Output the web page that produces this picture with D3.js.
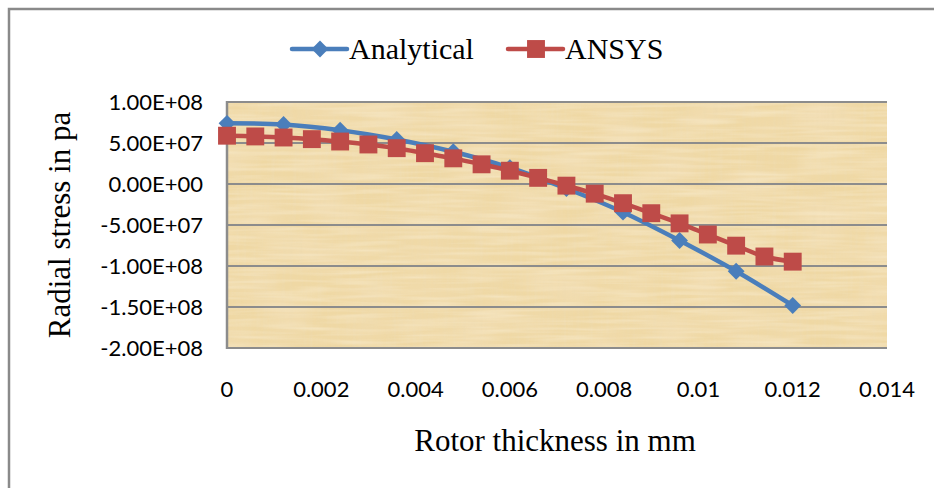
<!DOCTYPE html>
<html>
<head>
<meta charset="utf-8">
<script src="https://cdn.jsdelivr.net/npm/d3@7"></script>
<style>
  html, body { margin: 0; padding: 0; background: #ffffff; }
  svg { display: block; }
</style>
</head>
<body>
<svg id="chart" width="934" height="488"></svg>
<script>
// Rotor radial stress: analytical solution vs. ANSYS results
const analyticalX = [0, 0.0012, 0.0024, 0.0036, 0.0048, 0.006, 0.0072, 0.0084, 0.0096, 0.0108, 0.012];
const analyticalY = [7.4e7, 7.26e7, 6.56e7, 5.43e7, 3.93e7, 1.98e7, -5.5e6, -3.44e7, -6.89e7, -1.064e8, -1.482e8];

const ansysX = [0, 0.0006, 0.0012, 0.0018, 0.0024, 0.003, 0.0036, 0.0042, 0.0048, 0.0054, 0.006,
                0.0066, 0.0072, 0.0078, 0.0084, 0.009, 0.0096, 0.0102, 0.0108, 0.0114, 0.012];
const ansysY = [5.89e7, 5.8e7, 5.67e7, 5.47e7, 5.18e7, 4.82e7, 4.37e7, 3.76e7, 3.13e7, 2.4e7, 1.62e7,
                7.5e6, -2.0e6, -1.18e7, -2.34e7, -3.56e7, -4.8e7, -6.16e7, -7.52e7, -8.84e7, -9.47e7];

const xTicks = [0, 0.002, 0.004, 0.006, 0.008, 0.01, 0.012, 0.014];
const xTickLabels = ["0", "0.002", "0.004", "0.006", "0.008", "0.01", "0.012", "0.014"];
const yTicks = [1e8, 5e7, 0, -5e7, -1e8, -1.5e8, -2e8];
const yTickLabels = ["1.00E+08", "5.00E+07", "0.00E+00", "-5.00E+07", "-1.00E+08", "-1.50E+08", "-2.00E+08"];

const seriesNames = ["Analytical", "ANSYS"];
const seriesColors = ["#4a7ebb", "#be4b48"];

const svg = d3.select("#chart");
const plot = { left: 227, right: 887, top: 102, bottom: 348 };

const x = d3.scaleLinear().domain([0, 0.014]).range([plot.left, plot.right]);
const y = d3.scaleLinear().domain([-2e8, 1e8]).range([plot.bottom, plot.top]);

// outer chart frame
svg.append("rect")
  .attr("x", 9).attr("y", 9).attr("width", 940).attr("height", 500)
  .attr("fill", "none").attr("stroke", "#8a8a8a").attr("stroke-width", 2.5);

// parchment-style plot background: pale base with fibrous streaks
const defs = svg.append("defs");
const f = defs.append("filter").attr("id", "papyrus")
  .attr("x", 0).attr("y", 0).attr("width", 1).attr("height", 1);
f.append("feTurbulence").attr("type", "fractalNoise")
  .attr("baseFrequency", "0.3 0.015").attr("numOctaves", 2).attr("seed", 4).attr("result", "v");
f.append("feColorMatrix").attr("in", "v").attr("type", "matrix")
  .attr("values", "0 0 0 0 0.84  0 0 0 0 0.71  0 0 0 0 0.46  1.3 0 0 0 -0.55").attr("result", "vc");
f.append("feTurbulence").attr("type", "fractalNoise")
  .attr("baseFrequency", "0.015 0.25").attr("numOctaves", 2).attr("seed", 9).attr("result", "h");
f.append("feColorMatrix").attr("in", "h").attr("type", "matrix")
  .attr("values", "0 0 0 0 0.99  0 0 0 0 0.93  0 0 0 0 0.80  1.3 0 0 0 -0.5").attr("result", "hc");
f.append("feTurbulence").attr("type", "fractalNoise")
  .attr("baseFrequency", "0.02 0.03").attr("numOctaves", 1).attr("seed", 2).attr("result", "p");
f.append("feColorMatrix").attr("in", "p").attr("type", "matrix")
  .attr("values", "0 0 0 0 0.96  0 0 0 0 0.84  0 0 0 0 0.72  1.2 0 0 0 -0.5").attr("result", "pc");
f.append("feMerge").call(m => {
  m.append("feMergeNode").attr("in", "pc");
  m.append("feMergeNode").attr("in", "vc");
  m.append("feMergeNode").attr("in", "hc");
});

svg.append("rect")
  .attr("x", plot.left).attr("y", plot.top)
  .attr("width", plot.right - plot.left).attr("height", plot.bottom - plot.top)
  .attr("fill", "#efd8a4");
svg.append("rect")
  .attr("x", plot.left).attr("y", plot.top)
  .attr("width", plot.right - plot.left).attr("height", plot.bottom - plot.top)
  .attr("fill", "#ffffff").attr("filter", "url(#papyrus)").attr("opacity", 0.55);

// horizontal gridlines
svg.append("g").selectAll("line").data(yTicks).join("line")
  .attr("x1", plot.left).attr("x2", plot.right)
  .attr("y1", d => y(d)).attr("y2", d => y(d))
  .attr("stroke", "#8c8c8c").attr("stroke-width", 2);

// vertical axis line
svg.append("line")
  .attr("x1", plot.left).attr("x2", plot.left)
  .attr("y1", plot.top - 1).attr("y2", plot.bottom + 1)
  .attr("stroke", "#8c8c8c").attr("stroke-width", 2.5);

// y tick labels
svg.append("g").selectAll("text").data(yTicks).join("text")
  .attr("x", 203).attr("y", d => y(d))
  .attr("dy", "0.35em").attr("text-anchor", "end")
  .attr("font-family", "Lato, sans-serif").attr("font-size", 22).attr("fill", "#000")
  .text((d, i) => yTickLabels[i]);

// x tick labels
svg.append("g").selectAll("text").data(xTicks).join("text")
  .attr("x", d => x(d)).attr("y", 397)
  .attr("text-anchor", "middle")
  .attr("font-family", "Lato, sans-serif").attr("font-size", 22).attr("fill", "#000")
  .text((d, i) => xTickLabels[i]);

// axis titles
svg.append("text")
  .attr("x", 555).attr("y", 451).attr("text-anchor", "middle")
  .attr("font-family", "'Liberation Serif', 'Times New Roman', serif").attr("font-size", 31)
  .text("Rotor thickness in mm");
svg.append("text")
  .attr("transform", "translate(70,225) rotate(-90)").attr("text-anchor", "middle")
  .attr("font-family", "'Liberation Serif', 'Times New Roman', serif").attr("font-size", 31)
  .text("Radial stress in pa");

// series
const line = d3.line().x(d => x(d[0])).y(d => y(d[1])).curve(d3.curveCatmullRom.alpha(0.5));
const analytical = analyticalX.map((v, i) => [v, analyticalY[i]]);
const ansys = ansysX.map((v, i) => [v, ansysY[i]]);

const diamond = d3.symbol().type(d3.symbolDiamond2).size(180);
const square = d3.symbol().type(d3.symbolSquare).size(320);

svg.append("path").datum(analytical).attr("d", line)
  .attr("fill", "none").attr("stroke", seriesColors[0]).attr("stroke-width", 4.5);
svg.append("g").selectAll("path").data(analytical).join("path")
  .attr("transform", d => `translate(${x(d[0])},${y(d[1])})`)
  .attr("d", diamond).attr("fill", seriesColors[0]);

svg.append("path").datum(ansys).attr("d", line)
  .attr("fill", "none").attr("stroke", seriesColors[1]).attr("stroke-width", 4.5);
svg.append("g").selectAll("path").data(ansys).join("path")
  .attr("transform", d => `translate(${x(d[0])},${y(d[1])})`)
  .attr("d", square).attr("fill", seriesColors[1]);

// legend
const legendItems = [
  { name: seriesNames[0], color: seriesColors[0], sym: diamond, x0: 292 },
  { name: seriesNames[1], color: seriesColors[1], sym: square, x0: 508 }
];
const lg = svg.append("g").selectAll("g").data(legendItems).join("g");
lg.append("line")
  .attr("x1", d => d.x0).attr("x2", d => d.x0 + 55)
  .attr("y1", 49).attr("y2", 49)
  .attr("stroke", d => d.color).attr("stroke-width", 4.5).attr("stroke-linecap", "round");
lg.append("path")
  .attr("transform", d => `translate(${d.x0 + 28},49)`)
  .attr("d", d => d.sym()).attr("fill", d => d.color);
lg.append("text")
  .attr("x", d => d.x0 + 57).attr("y", 59)
  .attr("font-family", "'Liberation Serif', 'Times New Roman', serif").attr("font-size", 30)
  .text(d => d.name);
</script>
</body>
</html>
